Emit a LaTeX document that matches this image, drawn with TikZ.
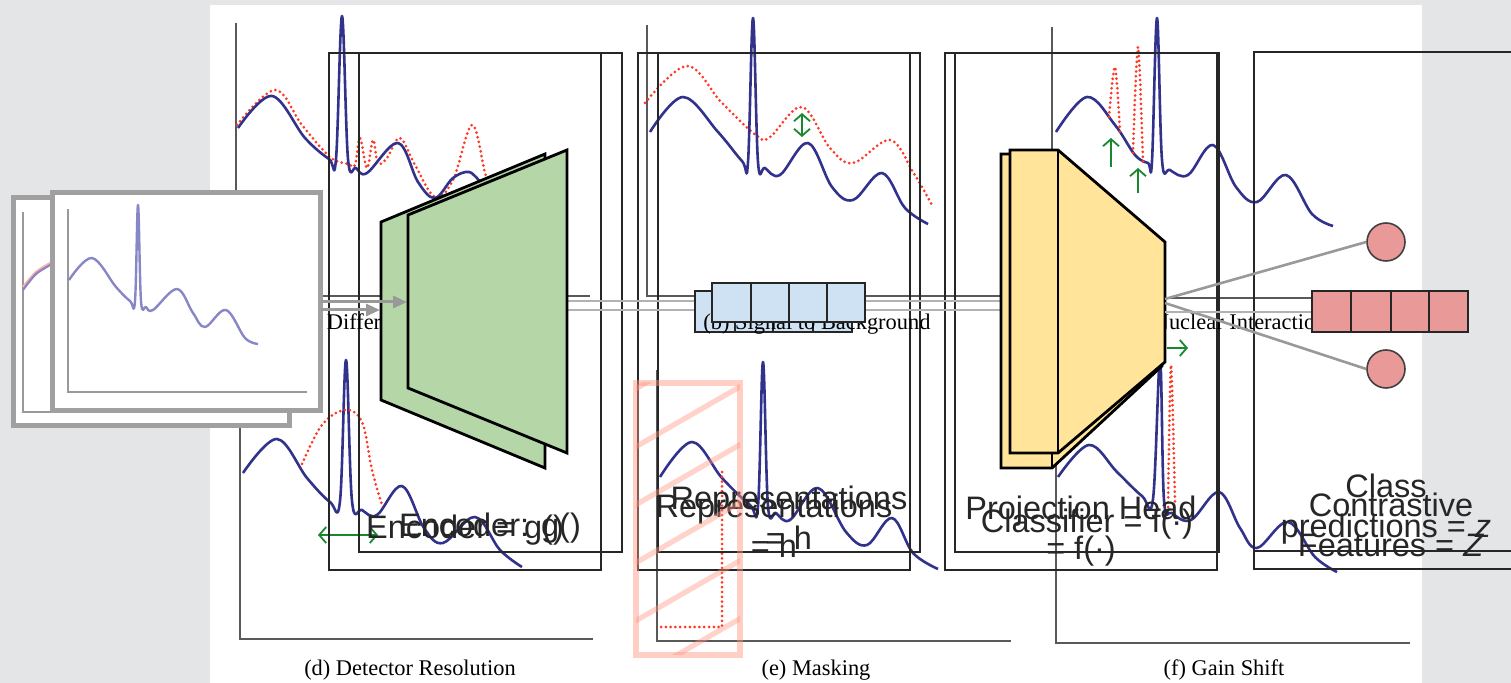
\documentclass[tikz,border=0pt]{standalone}
\usepackage{fontspec}
\setmainfont{Liberation Serif}
\newfontfamily\lsans{Liberation Sans}
\usetikzlibrary{arrows.meta}
\definecolor{bggray}{RGB}{228,229,231}
\definecolor{specblue}{RGB}{50,50,140}
\definecolor{specred}{RGB}{255,55,35}
\definecolor{encgreen}{RGB}{181,214,167}
\definecolor{headyellow}{RGB}{255,228,153}
\definecolor{repblue}{RGB}{207,226,243}
\definecolor{outpink}{RGB}{234,153,153}
\definecolor{maskpink}{RGB}{255,150,130}
\definecolor{arrgreen}{RGB}{25,135,45}
\definecolor{cardgray}{RGB}{160,160,160}
\definecolor{lightpurple}{RGB}{135,135,200}
\tikzset{
  framebox/.style={draw=black!85, line width=0.7pt},
  axisline/.style={draw=black!65, line width=1pt},
  spec/.style={draw=specblue, line width=1.3pt, line join=round},
  specdot/.style={draw=specred, line width=1.5pt, dash pattern=on 0pt off 2.4pt, line cap=round},
  encshape/.style={fill=encgreen, draw=black, line width=1.4pt},
  headshape/.style={fill=headyellow, draw=black, line width=1.4pt},
  cellbox/.style={draw=black!85, line width=0.8pt},
  conn/.style={draw=black!30, line width=1.3pt},
  inarrow/.style={draw=black!40, line width=1.5pt, -{Triangle[length=7pt,width=6pt]}},
  greenarrow/.style={draw=arrgreen, line width=0.9pt},
  gtip/.style={{Straight Barb[length=3.5pt,width=8pt]}-{Straight Barb[length=3.5pt,width=8pt]}},
  gtipend/.style={-{Straight Barb[length=3.5pt,width=8pt]}},
  label/.style={font=\lsans\fontsize{16.25}{20}\selectfont, text=black!85, align=center, inner sep=0pt, anchor=base},
  caption/.style={font=\fontsize{11.2}{13}\selectfont, inner sep=0pt, anchor=base},
  card/.style={draw=cardgray, line width=2.5pt, fill=white},
  cardaxis/.style={draw=black!40, line width=0.9pt},
}
\begin{document}
\begin{tikzpicture}[x=0.5pt,y=-0.5pt]
\useasboundingbox (0,0) rectangle (1511,683);
\clip (0,0) rectangle (1511,683);
% background
\fill[bggray] (0,0) rectangle (1511,683);
\fill[white] (210,5) rectangle (1422,683);

% axes of the six panels
\draw[axisline] (236,23) -- (236,296) -- (590,296);
\draw[axisline] (647,25) -- (647,296) -- (1002,296);
\draw[axisline] (1052,27) -- (1052,298) -- (1312,298);
\draw[axisline] (240,360) -- (240,639) -- (593,639);
\draw[axisline] (657,370) -- (657,641) -- (1011,641);
\draw[axisline] (1056,365) -- (1056,643) -- (1410,643);

% (a) spectra
\draw[specdot] plot[smooth, tension=0.6] coordinates {(237,125) (275,90) (302,125) (330,157) (348,164) (355,165) (360,138) (367,168) (373,140) (378,163) (387,158) (400,138) (415,165) (435,197) (453,180) (472,125) (485,173) (490,185)};
\draw[spec] plot[smooth, tension=0.6] coordinates {(238,128) (272,96) (305,138) (329,159) (336,159) (342,16) (348,159) (356,168) (367,173) (398,143) (418,182) (435,198) (453,178) (469,172) (480,182)};
% (b) spectra
\draw[specdot] plot[smooth, tension=0.6] coordinates {(645,103) (687,66) (722,103) (757,136) (770,137) (802,107) (830,148) (853,163) (890,140) (913,172) (932,205)};
\draw[spec] plot[smooth, tension=0.6] coordinates {(650,132) (683,97) (718,132) (742,161) (748,162) (753,18) (758,162) (765,168) (780,175) (808,143) (832,187) (853,200) (882,173) (905,208) (928,224)};
\draw[greenarrow, gtip] (802,113) -- (802,137);
% (c) spectra
\draw[spec] plot[smooth, tension=0.6] coordinates {(1056,132) (1087,97) (1115,125) (1135,155) (1148,163) (1152,161) (1157,18) (1162,160) (1170,170) (1188,175) (1213,145) (1236,187) (1257,202) (1286,175) (1312,214) (1333,226)};
\draw[specdot] plot[smooth, tension=0.55] coordinates {(1109,117) (1115,67) (1120,133)};
\draw[specdot] plot[smooth, tension=0.55] coordinates {(1133,153) (1138,47) (1143,163)};
\draw[greenarrow, gtipend] (1111,167) -- (1111,138);
\draw[greenarrow, gtipend] (1138,193) -- (1138,168);
% (d) spectra
\draw[spec] plot[smooth, tension=0.6] coordinates {(243,473) (277,439) (307,478) (330,502) (340,501) (346,360) (352,501) (362,510) (377,515) (402,486) (424,528) (443,543) (475,517) (500,550) (522,567)};
\draw[specdot] plot[smooth, tension=0.6] coordinates {(302,464) (322,425) (345,410) (362,422) (372,470) (382,505)};
\draw[greenarrow, gtip] (318,535) -- (378,535);
% (e) spectra
\draw[spec] plot[smooth, tension=0.6] coordinates {(660,477) (692,442) (722,478) (750,505) (758,506) (763,362) (768,506) (776,513) (790,520) (818,488) (846,532) (867,545) (892,518) (913,553) (938,569)};
\draw[specdot] (722,472) -- (722,627) -- (658,627);
% (f) spectra
\draw[spec] plot[smooth, tension=0.6] coordinates {(1058,477) (1089,445) (1117,472) (1142,496) (1153,499) (1160,360) (1164,500) (1172,513) (1191,520) (1219,492) (1240,528) (1257,548) (1288,522) (1315,557) (1337,572)};
\draw[specdot] plot[smooth, tension=0.5] coordinates {(1168,507) (1171,365) (1175,503)};
\draw[greenarrow, gtipend] (1167,348) -- (1188,348);

% frames
\draw[framebox] (329,53) rectangle (601,570);
\draw[framebox] (359,53) rectangle (622,552);
\draw[framebox] (638,53) rectangle (910,570);
\draw[framebox] (658,53) rectangle (920,552);
\draw[framebox] (945,53) rectangle (1217,570);
\draw[framebox] (955,53) rectangle (1219,552);
\draw[framebox] (1254,52) rectangle (1540,569);
\draw[framebox] (1254,52) rectangle (1540,551);

% captions
\node[caption, anchor=base west] (capa) at (296,330) {(a) Different Background};
\node[caption, anchor=base west] (capc) at (1122,330) {(c) Nuclear Interaction};
\node[caption] (capd) at (410,676) {(d) Detector Resolution};
\node[caption] (cape) at (816,676) {(e) Masking};
\node[caption] (capf) at (1224,676) {(f) Gain Shift};

% input cards
\draw[card] (13.5,197.5) rectangle (289.5,425.5);
\draw[cardaxis] (23,212) -- (23,412) -- (60,412);
\draw[specred!40, line width=1.1pt] plot[smooth] coordinates {(23,287) (36,272) (52,262)};
\draw[lightpurple, line width=1.1pt] plot[smooth] coordinates {(23,290) (36,274) (52,264)};
\draw[card] (52.5,192.5) rectangle (320.5,410.5);
\draw[cardaxis] (68,209) -- (68,392) -- (307,392);
\draw[lightpurple, line width=1.2pt, line join=round] plot[smooth, tension=0.6] coordinates {(69,280) (92,258) (116,287) (130,301) (135,301) (138,205) (141,301) (146,307) (153,310) (177,289) (193,313) (205,327) (226,310) (245,338) (258,344)};

% named connector ends
\coordinate (cardA) at (321,310);
\coordinate (cardB) at (321,302);
\coordinate (encBackL) at (380,310);
\coordinate (encFrontL) at (407,302);
\coordinate (encBackR) at (545,310);
\coordinate (encFrontR) at (567,301);
\coordinate (headBackL) at (1001,310);
\coordinate (headFrontL) at (1010,301);
\coordinate (headR) at (1165,299);
\coordinate (headR2) at (1165,303);
\coordinate (headR3) at (1165,312);

% arrow into back encoder, encoder -> head connectors
\draw[inarrow] (cardA) -- (encBackL);
\draw[conn] (encFrontR) -- (headFrontL);
\draw[conn] (encBackR) -- (headBackL);

% encoder
\filldraw[encshape] (381,222) -- (545,154) -- (545,468) -- (381,400) -- cycle;
\draw[inarrow] (cardB) -- (encFrontL);
\filldraw[encshape] (408,215) -- (567,150) -- (567,453) -- (408,388) -- cycle;

% representations
\filldraw[cellbox, fill=repblue] (695,291) rectangle (852,332);
\foreach \xx in {735,773,813} \draw[cellbox] (\xx,291) -- (\xx,332);
\node[caption, anchor=base west] (capb) at (703,330) {(b) Signal to Background};
\filldraw[cellbox, fill=repblue] (712,283) rectangle (865,322);
\foreach \xx in {751,789,827} \draw[cellbox] (\xx,283) -- (\xx,322);

% projection head
\filldraw[headshape] (1001,154) -- (1049,154) -- (1158,246) -- (1162,366) -- (1052,468) -- (1001,468) -- cycle;
\draw[black, line width=1.4pt] (1052,154) -- (1052,468);
\filldraw[headshape] (1010,150) -- (1058,150) -- (1165,242) -- (1165,362) -- (1058,453) -- (1010,453) -- cycle;
\draw[black, line width=1.4pt] (1058,150) -- (1058,453);

% outputs
\node[circle, draw=black!75, line width=0.8pt, fill=outpink, minimum size=19pt, inner sep=0pt] (c1) at (1386,242) {};
\node[circle, draw=black!75, line width=0.8pt, fill=outpink, minimum size=19pt, inner sep=0pt] (c2) at (1386,369) {};
\coordinate (outL) at (1312,312);
\draw[conn, draw=black!40] (headR) -- (c1.west);
\draw[conn, draw=black!40] (headR2) -- (c2.west);
\draw[conn] (headR3) -- (outL);
\filldraw[cellbox, fill=outpink] (1312,291) rectangle (1468,332);
\foreach \xx in {1351,1391,1429} \draw[cellbox] (\xx,291) -- (\xx,332);

% labels (base anchor = baseline of the last line)
\node[label] (encA) at (465,539) {Encoder = g()};
\node[label] (encB) at (490,537) {Encoder: g()};
\node[label] (repA) at (774,558) {Representations\\= h};
\node[label] (repB) at (789,550) {Representations\\= h};
\node[label] (headA) at (1081,560) {Projection Head\\= f(·)};
\node[label] (headB) at (1087,533) {Classifier = f(·)};
\node[label] (outA) at (1391,557) {Contrastive\\Features = \textit{Z}};
\node[label] (outB) at (1386,538) {Class\\predictions = \textit{z}};

% mask
\begin{scope}
\clip (636,383) rectangle (740,655);
\foreach \k in {0,...,8} \draw[maskpink, opacity=0.42, line width=2.6pt] (625,395+\k*58) -- (755,320+\k*58);
\end{scope}
\draw[maskpink, opacity=0.45, line width=3pt] (636,383) rectangle (740,655);
\end{tikzpicture}
\end{document}
